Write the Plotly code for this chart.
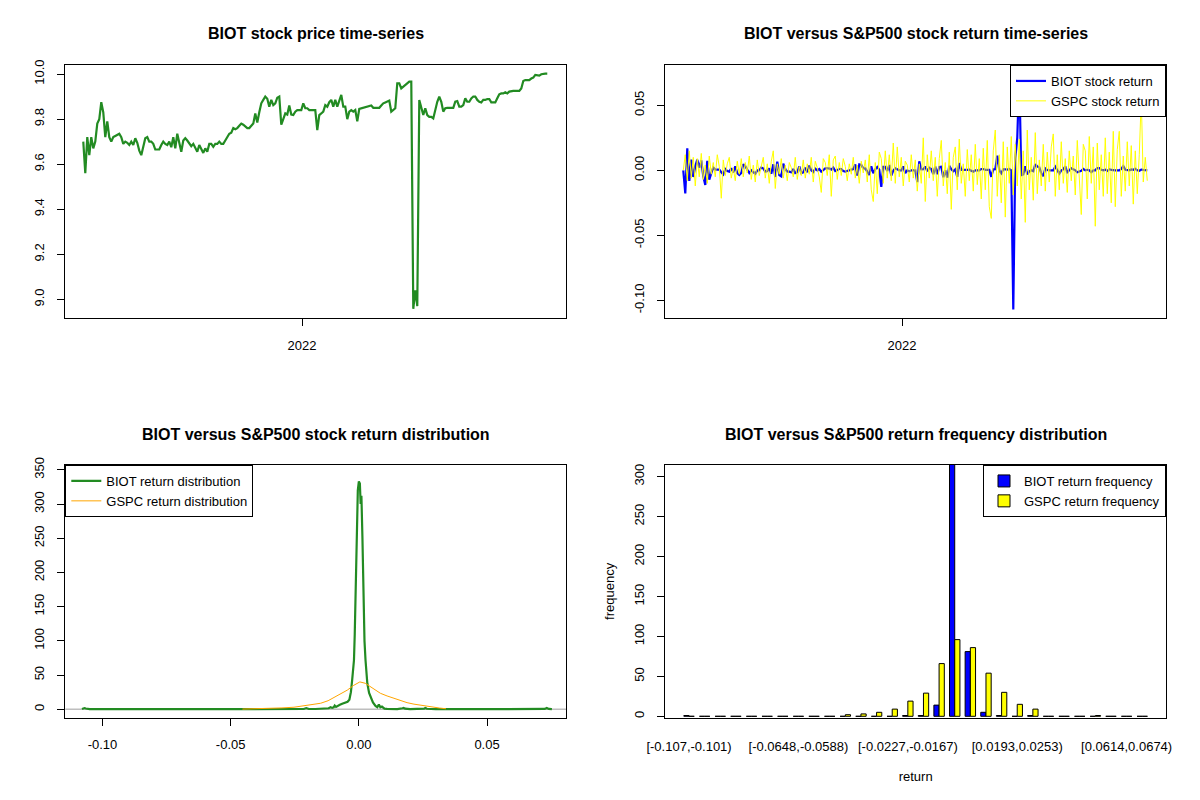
import pandas as pd
import plotly.graph_objects as go

# ---------------- data ----------------
start_date = "2021-03-10"
end_date = "2022-11-30"

biot_price = [
    9.70, 9.56, 9.72, 9.64, 9.72, 9.67, 9.70, 9.78, 9.80, 9.875,
    9.83, 9.72, 9.79, 9.72, 9.70, 9.72, 9.725, 9.73, 9.735, 9.72,
    9.69, 9.70, 9.695, 9.685, 9.70, 9.685, 9.715, 9.695, 9.66, 9.64,
    9.685, 9.715, 9.72, 9.70, 9.70, 9.69, 9.665, 9.665, 9.665, 9.685,
    9.70, 9.69, 9.685, 9.70, 9.675, 9.72, 9.67, 9.735, 9.70, 9.655,
    9.705, 9.715, 9.705, 9.695, 9.68, 9.69, 9.67, 9.655, 9.685, 9.665,
    9.65, 9.67, 9.655, 9.69, 9.69, 9.677, 9.69, 9.69, 9.70, 9.69,
    9.69, 9.705, 9.72, 9.735, 9.74, 9.76, 9.755, 9.76, 9.77, 9.78,
    9.775, 9.765, 9.76, 9.76, 9.77, 9.78, 9.825, 9.785, 9.83, 9.87,
    9.885, 9.90, 9.89, 9.855, 9.885, 9.862, 9.87, 9.895, 9.90, 9.775,
    9.80, 9.825, 9.82, 9.86, 9.82, 9.818, 9.833, 9.84, 9.84, 9.84,
    9.87, 9.848, 9.848, 9.84, 9.84, 9.84, 9.84, 9.751, 9.818, 9.825,
    9.833, 9.862, 9.855, 9.875, 9.885, 9.855, 9.885, 9.855, 9.88, 9.907,
    9.855, 9.855, 9.80, 9.833, 9.84, 9.833, 9.84, 9.79, 9.845, 9.848,
    9.85, 9.852, 9.855, 9.86, 9.86, 9.85, 9.85, 9.85, 9.85, 9.86,
    9.87, 9.874, 9.878, 9.882, 9.833, 9.84, 9.848, 9.959, 9.959, 9.936,
    9.944, 9.951, 9.956, 9.966, 9.966, 8.958, 9.04, 8.97, 9.885, 9.848,
    9.818, 9.848, 9.818, 9.81, 9.81, 9.803, 9.848, 9.877, 9.90, 9.877,
    9.833, 9.848, 9.85, 9.85, 9.85, 9.85, 9.877, 9.88, 9.855, 9.855,
    9.862, 9.892, 9.877, 9.877, 9.892, 9.90, 9.90, 9.885, 9.877, 9.874,
    9.885, 9.885, 9.889, 9.889, 9.874, 9.874, 9.874, 9.892, 9.91, 9.914,
    9.914, 9.919, 9.914, 9.922, 9.925, 9.925, 9.925, 9.925, 9.925, 9.936,
    9.969, 9.973, 9.973, 9.973, 9.98, 9.984, 9.996, 9.996, 9.993, 9.999,
    10.002, 10.002, 10.002,
]

biot_return = [
    0.0000, -0.0177, 0.0170, -0.0082, 0.0082, -0.0051, 0.0031, 0.0082, 0.0020, 0.0076,
    -0.0046, -0.0112, 0.0072, -0.0072, -0.0021, 0.0021, 0.0005, 0.0005, 0.0005, -0.0015,
    -0.0031, 0.0010, -0.0005, -0.0010, 0.0015, -0.0015, 0.0031, -0.0021, -0.0036, -0.0021,
    0.0046, 0.0031, 0.0005, -0.0021, 0.0000, -0.0010, -0.0026, 0.0000, 0.0000, 0.0021,
    0.0015, -0.0010, -0.0005, 0.0015, -0.0026, 0.0046, -0.0051, 0.0067, -0.0036, -0.0046,
    0.0051, 0.0010, -0.0010, -0.0010, -0.0015, 0.0010, -0.0021, -0.0015, 0.0031, -0.0021,
    -0.0015, 0.0021, -0.0015, 0.0036, 0.0000, -0.0013, 0.0013, 0.0000, 0.0010, -0.0010,
    0.0000, 0.0015, 0.0015, 0.0015, 0.0005, 0.0021, -0.0005, 0.0005, 0.0010, 0.0010,
    -0.0005, -0.0010, -0.0005, 0.0000, 0.0010, 0.0010, 0.0046, -0.0041, 0.0046, 0.0041,
    0.0015, 0.0015, -0.0010, -0.0036, 0.0031, -0.0023, 0.0008, 0.0025, 0.0005, -0.0127,
    0.0026, 0.0026, -0.0005, 0.0041, -0.0041, -0.0002, 0.0015, 0.0007, 0.0000, 0.0000,
    0.0030, -0.0022, 0.0000, -0.0008, 0.0000, 0.0000, 0.0000, -0.0091, 0.0069, 0.0007,
    0.0008, 0.0029, -0.0007, 0.0020, 0.0010, -0.0030, 0.0030, -0.0030, 0.0025, 0.0027,
    -0.0053, 0.0000, -0.0056, 0.0034, 0.0007, -0.0007, 0.0007, -0.0051, 0.0056, 0.0003,
    0.0002, 0.0002, 0.0003, 0.0005, 0.0000, -0.0010, 0.0000, 0.0000, 0.0000, 0.0010,
    0.0010, 0.0004, 0.0004, 0.0004, -0.0050, 0.0007, 0.0008, 0.0112, 0.0000, -0.0023,
    0.0008, 0.0007, 0.0005, 0.0010, 0.0000, -0.1070, 0.0089, 0.0252, 0.0733, -0.0037,
    -0.0031, 0.0031, -0.0031, -0.0008, 0.0000, -0.0007, 0.0046, 0.0029, 0.0023, -0.0023,
    -0.0045, 0.0015, 0.0002, 0.0000, 0.0000, 0.0000, 0.0027, 0.0003, -0.0025, 0.0000,
    0.0007, 0.0030, -0.0015, 0.0000, 0.0015, 0.0008, 0.0000, -0.0015, -0.0008, -0.0003,
    0.0011, 0.0000, 0.0004, 0.0000, -0.0015, 0.0000, 0.0000, 0.0018, 0.0018, 0.0004,
    0.0000, 0.0005, -0.0005, 0.0008, 0.0003, 0.0000, 0.0000, 0.0000, 0.0000, 0.0011,
    0.0033, 0.0004, 0.0000, 0.0000, 0.0007, 0.0004, 0.0012, 0.0000, -0.0003, 0.0006,
    0.0003, 0.0000, 0.0000,
]

gspc_return = [
    0.0000, 0.0120, -0.0080, 0.0150, -0.0060, 0.0100, -0.0120, 0.0090, -0.0050, 0.0130,
    -0.0070, 0.0040, -0.0100, 0.0110, -0.0030, 0.0060,
    -0.0050, 0.0120, 0.0030, -0.0215, 0.0080, -0.0040, 0.0050, 0.0100, -0.0060, 0.0020,
    -0.0080, 0.0070, -0.0030, 0.0090, -0.0050,
    0.0060, -0.0020, 0.0110, -0.0070, 0.0040, -0.0090, 0.0080, -0.0040, 0.0030, 0.0100,
    -0.0060, 0.0050, -0.0100, 0.0070, 0.0150,
    -0.0140, 0.0050, -0.0030, 0.0090, -0.0060, 0.0040, -0.0080, 0.0060, 0.0020, -0.0050,
    0.0100, -0.0070, 0.0030, -0.0040, 0.0080,
    -0.0060, 0.0050, -0.0030, 0.0100, -0.0090, 0.0070, 0.0020, -0.0050, -0.0170, 0.0090,
    0.0060, -0.0040, 0.0120, -0.0200, 0.0080,
    0.0110, -0.0070, 0.0060, -0.0040, 0.0090, 0.0030, -0.0080, 0.0050, -0.0030, 0.0100,
    -0.0060, 0.0040, -0.0100, 0.0070, -0.0020,
    0.0080, -0.0090, 0.0120, -0.0150, -0.0240, 0.0060, -0.0180, 0.0140, 0.0090, -0.0100,
    0.0150, -0.0060, 0.0120, -0.0080, 0.0210,
    -0.0100, 0.0180, -0.0050, 0.0100, -0.0120, 0.0070, 0.0040, -0.0090, 0.0120, -0.0060,
    0.0080, -0.0160, 0.0050, -0.0100, 0.0250,
    -0.0240, 0.0120, -0.0060, 0.0150, -0.0080, 0.0100, -0.0200, 0.0090, 0.0230, -0.0120,
    0.0060, -0.0180, 0.0140, -0.0300, 0.0100,
    0.0180, -0.0150, 0.0240, -0.0100, 0.0050, -0.0200, 0.0160, -0.0080, 0.0120, -0.0160,
    0.0200, -0.0110, 0.0090, -0.0220, 0.0170,
    -0.0150, 0.0230, -0.0280, -0.0370, 0.0150, 0.0310, -0.0200, 0.0120, -0.0250, 0.0220,
    -0.0360, 0.0180, -0.0100, 0.0260, -0.0190,
    0.0200, -0.0120, 0.0240, -0.0220, 0.0150, -0.0400, 0.0310, -0.0150, 0.0100, -0.0230,
    0.0290, -0.0180, 0.0080, -0.0120, 0.0200,
    -0.0160, 0.0140, -0.0090, 0.0180, 0.0280, -0.0200, 0.0120, -0.0150, 0.0220, -0.0100,
    0.0090, -0.0170, 0.0150, -0.0080, 0.0110,
    -0.0190, 0.0230, -0.0120, -0.0340, 0.0200, 0.0150, -0.0220, 0.0260, -0.0100, 0.0180,
    -0.0430, 0.0210, -0.0150, 0.0120, -0.0200,
    0.0250, -0.0180, 0.0140, -0.0250, 0.0300, -0.0280, 0.0160, 0.0300, -0.0200, 0.0110,
    -0.0160, 0.0220, -0.0120, 0.0190, -0.0260,
    0.0150, -0.0180, 0.0120, 0.0554, -0.0090, 0.0100, -0.0080,
]

dens_biot_x = [
    -0.1080, -0.1075, -0.1070, -0.1065, -0.1058, -0.1050, -0.0900, -0.0600, -0.0300, -0.0215,
    -0.0205, -0.0195, -0.0170, -0.0140, -0.0118, -0.0110, -0.0104, -0.0098, -0.0094, -0.0089,
    -0.0083, -0.0074, -0.0065, -0.0052, -0.0044, -0.0037, -0.0031, -0.0026, -0.0022, -0.0019,
    -0.0016, -0.0013, -0.0008, -0.0004, 0.0000, 0.0004, 0.0007, 0.0010, 0.0014, 0.0018,
    0.0022, 0.0026, 0.0030, 0.0033, 0.0040, 0.0046, 0.0055, 0.0065, 0.0072, 0.0078,
    0.0084, 0.0090, 0.0100, 0.0110, 0.0150, 0.0170, 0.0175, 0.0180, 0.0200, 0.0255,
    0.0260, 0.0265, 0.0300, 0.0500, 0.0700, 0.0725, 0.0733, 0.0741, 0.0753,
]
dens_biot_y = [
    0.3, 1.2, 1.8, 1.2, 0.3, 0.2, 0.2, 0.2, 0.2, 0.4,
    1.8, 0.4, 0.4, 0.6, 1.5, 3.0, 2.0, 2.8, 5.5, 3.5,
    5.0, 6.5, 8.0, 10.0, 11.0, 14.0, 25.0, 43.0, 58.0, 72.0,
    110.0, 165.0, 235.0, 320.0, 333.0, 330.0, 300.0, 312.0, 250.0, 160.0,
    100.0, 72.0, 50.0, 38.0, 24.0, 18.0, 10.0, 5.0, 3.0, 7.0,
    3.0, 4.0, 1.0, 0.5, 0.3, 1.5, 2.0, 1.0, 0.3, 1.0,
    1.8, 0.8, 0.2, 0.2, 0.2, 0.5, 1.8, 0.5, 0.1,
]
dens_gspc_x = [
    -0.0454, -0.0400, -0.0330, -0.0300, -0.0253, -0.0201, -0.0175, -0.0149, -0.0120, -0.0097,
    -0.0070, -0.0045, -0.0020, 0.0004, 0.0025, 0.0046, 0.0065, 0.0084, 0.0110, 0.0136,
    0.0160, 0.0188, 0.0215, 0.0240, 0.0265, 0.0290, 0.0315, 0.0340,
]
dens_gspc_y = [
    0.3, 0.6, 1.5, 2.0, 3.0, 6.0, 7.5, 8.8, 12.5, 17.0,
    22.5, 28.0, 35.0, 40.0, 38.0, 33.0, 27.5, 23.4, 19.5, 16.0,
    13.0, 9.7, 7.5, 5.8, 4.2, 3.0, 1.8, 0.8,
]

bin_breaks = [
    "-0.107", "-0.101", "-0.0949", "-0.0889", "-0.0829", "-0.0769", "-0.0709", "-0.0648",
    "-0.0588", "-0.0528", "-0.0468", "-0.0408", "-0.0348", "-0.0288", "-0.0227", "-0.0167",
    "-0.0107", "-0.00471", "0.00131", "0.00732", "0.0133", "0.0193", "0.0253", "0.0314",
    "0.0374", "0.0434", "0.0494", "0.0554", "0.0614", "0.0674", "0.0735",
]
biot_freq = [1, 0, 0, 0, 0, 0, 0, 0, 0, 0, 0, 0, 0, 0, 1, 1, 14, 330, 81, 5,
             1, 0, 1, 0, 0, 0, 0, 0, 0, 0]
gspc_freq = [0, 0, 0, 0, 0, 0, 0, 0, 0, 0, 2, 3, 5, 9, 19, 29, 66, 96, 86, 54,
             30, 15, 9, 0, 0, 0, 1, 0, 0, 0]

price_ticks = [9.0, 9.2, 9.4, 9.6, 9.8, 10.0]
price_tick_text = ["9.0", "9.2", "9.4", "9.6", "9.8", "10.0"]
ret_ticks = [-0.10, -0.05, 0.0, 0.05]
ret_tick_text = ["-0.10", "-0.05", "0.00", "0.05"]
dens_ticks = [0, 50, 100, 150, 200, 250, 300, 350]
freq_ticks = [0, 50, 100, 150, 200, 250, 300]
year_ticks = ["2022-01-01"]
year_tick_text = ["2022"]

# ---------------- figure ----------------
FONT = "Liberation Sans, Arial, sans-serif"
bin_labels = ["[%s,%s)" % (a, b) for a, b in zip(bin_breaks[:-1], bin_breaks[1:])]
dates_p = pd.date_range(start_date, end_date, periods=len(biot_price))
dates_b = pd.date_range(start_date, end_date, periods=len(biot_return))
dates_g = pd.date_range(start_date, end_date, periods=len(gspc_return))

W, H = 1200, 800
def xd(a, b):
    return [a / W, b / W]
def yd(top, bottom):
    return [1 - bottom / H, 1 - top / H]

LEFT = xd(65.3, 566)
RIGHT = xd(665.3, 1166)
TOP = yd(65, 318.3)
BOT = yd(465, 717.7)

def ax(**kw):
    d = dict(showline=True, mirror=True, linecolor="black", linewidth=1,
             ticks="outside", ticklen=7, tickcolor="black", tickwidth=1,
             showgrid=False, zeroline=False, automargin=False,
             tickfont=dict(family=FONT, size=13, color="black"))
    d.update(kw)
    return d

fig = go.Figure()

# panel 1: price
fig.add_trace(go.Scatter(x=dates_p, y=biot_price, mode="lines",
                         line=dict(color="#228B22", width=2.2),
                         showlegend=False, xaxis="x", yaxis="y"))

# panel 2: returns
fig.add_trace(go.Scatter(x=dates_b, y=biot_return, mode="lines",
                         name="BIOT stock return",
                         line=dict(color="#0000FF", width=2.2),
                         xaxis="x2", yaxis="y2", legend="legend"))
fig.add_trace(go.Scatter(x=dates_g, y=gspc_return, mode="lines",
                         name="GSPC stock return",
                         line=dict(color="#FFFF00", width=1),
                         xaxis="x2", yaxis="y2", legend="legend"))

# panel 3: density
fig.add_trace(go.Scatter(x=dens_biot_x, y=dens_biot_y, mode="lines",
                         name="BIOT return distribution",
                         line=dict(color="#228B22", width=2.2),
                         xaxis="x3", yaxis="y3", legend="legend2"))
fig.add_trace(go.Scatter(x=dens_gspc_x, y=dens_gspc_y, mode="lines",
                         name="GSPC return distribution",
                         line=dict(color="#FFA500", width=1),
                         xaxis="x3", yaxis="y3", legend="legend2"))

# panel 4: frequency bars
fig.add_trace(go.Bar(x=bin_labels, y=biot_freq, name="BIOT return frequency",
                     marker=dict(color="#0000FF", line=dict(color="black", width=1)),
                     xaxis="x4", yaxis="y4", legend="legend3"))
fig.add_trace(go.Bar(x=bin_labels, y=gspc_freq, name="GSPC return frequency",
                     marker=dict(color="#FFFF00", line=dict(color="black", width=1)),
                     xaxis="x4", yaxis="y4", legend="legend3"))

date_range = ["2021-02-13 14:00", "2022-12-25 10:00"]
LEG = dict(bgcolor="white", bordercolor="black", borderwidth=1,
           font=dict(family=FONT, size=13, color="black"), tracegroupgap=0)

fig.update_layout(
    width=W, height=H, autosize=False,
    margin=dict(l=0, r=0, t=0, b=0, pad=0, autoexpand=False),
    paper_bgcolor="white", plot_bgcolor="white",
    font=dict(family=FONT, size=13, color="black"),
    barmode="group", bargap=1 / 3, bargroupgap=0,
    xaxis=ax(domain=LEFT, anchor="y", type="date", range=date_range,
             tickvals=year_ticks, ticktext=year_tick_text, ticklabelstandoff=8),
    yaxis=ax(domain=TOP, anchor="x", range=[8.916, 10.040],
             tickvals=price_ticks, ticktext=price_tick_text, tickangle=-90,
             ticklabelstandoff=8),
    xaxis2=ax(domain=RIGHT, anchor="y2", type="date", range=date_range,
              tickvals=year_ticks, ticktext=year_tick_text, ticklabelstandoff=8),
    yaxis2=ax(domain=TOP, anchor="x2", range=[-0.1138, 0.0810],
              tickvals=ret_ticks, ticktext=ret_tick_text, tickangle=-90,
              ticklabelstandoff=8),
    xaxis3=ax(domain=LEFT, anchor="y3", range=[-0.1145, 0.0808],
              tickvals=ret_ticks, ticktext=ret_tick_text, ticklabelstandoff=8),
    yaxis3=ax(domain=BOT, anchor="x3", range=[-12.3, 357],
              tickvals=dens_ticks, ticktext=[str(v) for v in dens_ticks],
              tickangle=-90, ticklabelstandoff=8),
    xaxis4=ax(domain=RIGHT, anchor="y4", type="category", range=[-1.52, 30.52],
              ticks="", tickvals=[bin_labels[i] for i in (0, 7, 14, 21, 28)],
              ticktext=[bin_labels[i] for i in (0, 7, 14, 21, 28)],
              ticklabelstandoff=17,
              title=dict(text="return", standoff=18,
                         font=dict(family=FONT, size=13, color="black"))),
    yaxis4=ax(domain=BOT, anchor="x4", range=[-1.75, 314.6],
              tickvals=freq_ticks, ticktext=[str(v) for v in freq_ticks],
              tickangle=-90, ticklabelstandoff=8,
              title=dict(text="frequency", standoff=14,
                         font=dict(family=FONT, size=13, color="black"))),
    legend=dict(x=1166 / W, y=1 - 65 / H, xanchor="right", yanchor="top", **LEG),
    legend2=dict(x=65.3 / W, y=1 - 465 / H, xanchor="left", yanchor="top", **LEG),
    legend3=dict(x=1166 / W, y=1 - 465 / H, xanchor="right", yanchor="top", **LEG),
    shapes=[dict(type="line", xref="x3 domain", yref="y3", x0=0, x1=1, y0=0, y1=0,
                 line=dict(color="#BEBEBE", width=1.5), layer="below")],
)

titles = [
    ("BIOT stock price time-series", 315.7, 34),
    ("BIOT versus S&P500 stock return time-series", 915.7, 34),
    ("BIOT versus S&P500 stock return distribution", 315.7, 435),
    ("BIOT versus S&P500 return frequency distribution", 915.7, 435),
]
for text, cx, cy in titles:
    fig.add_annotation(text="<b>%s</b>" % text, x=cx / W, y=1 - cy / H,
                       xref="paper", yref="paper", showarrow=False,
                       xanchor="center", yanchor="middle",
                       font=dict(family=FONT, size=16, color="black"))

fig.write_html("out.html", config={"displayModeBar": False},
               post_script="document.body.style.margin='0';document.body.style.padding='0';")
